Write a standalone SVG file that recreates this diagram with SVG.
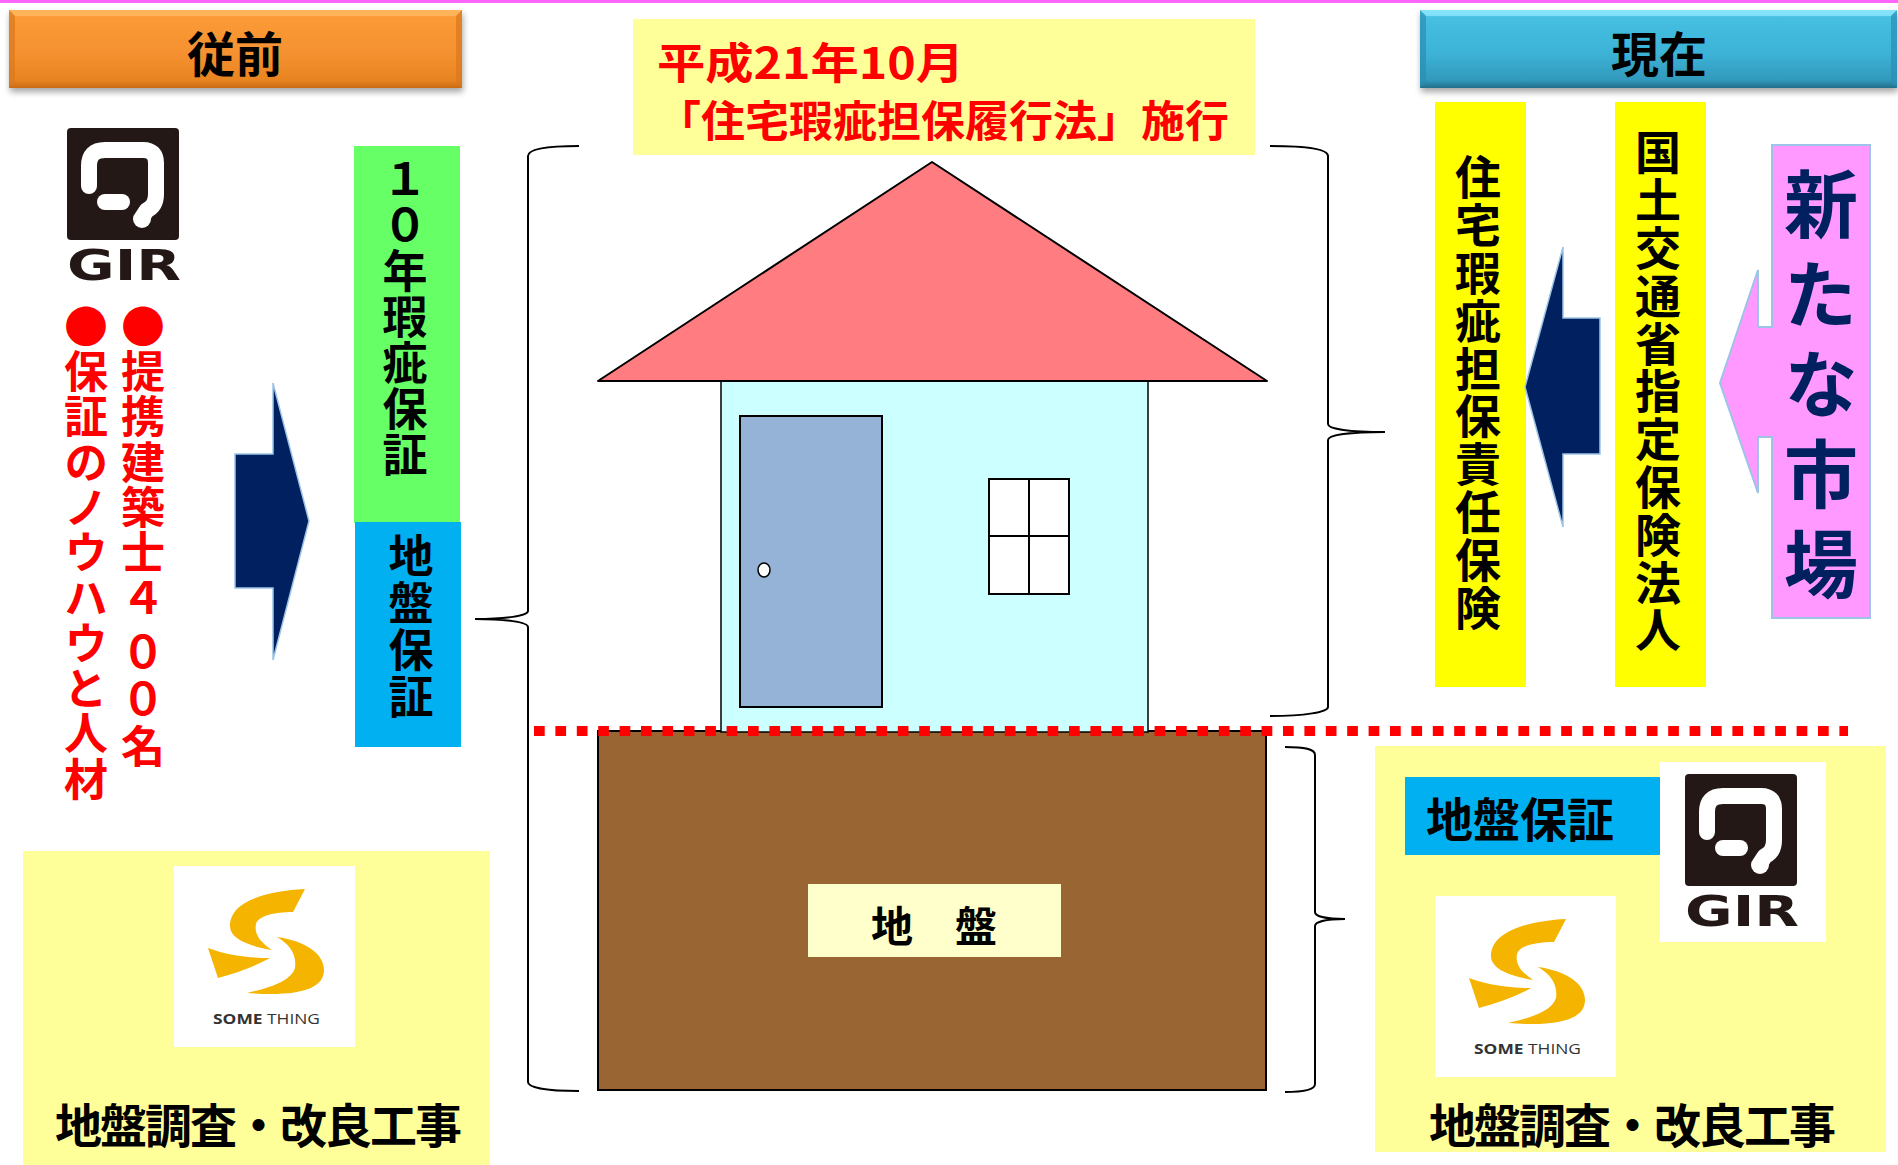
<svg xmlns="http://www.w3.org/2000/svg" xmlns:xlink="http://www.w3.org/1999/xlink" width="1898" height="1165" viewBox="0 0 1898 1165">
  <style>
    .jp { font-family: 'Noto Sans CJK JP', 'Noto Sans CJK SC', sans-serif; font-weight: bold; }
    .v { writing-mode: vertical-rl; text-orientation: upright; }
    .red { fill: #ff0000; }
    .blk { fill: #000000; }
    .navy { fill: #002060; }
    .brace { fill: none; stroke: #000000; stroke-width: 2; }
    .navyArrow { fill: #002060; stroke: #9dc3e6; stroke-width: 1.5; }
  </style>
  <defs>
    <linearGradient id="orangeGrad" x1="0" y1="0" x2="0" y2="1">
      <stop offset="0" stop-color="#ffa94a"/>
      <stop offset="0.1" stop-color="#fb9a36"/>
      <stop offset="0.55" stop-color="#f59130"/>
      <stop offset="0.9" stop-color="#e98422"/>
      <stop offset="1" stop-color="#c96b14"/>
    </linearGradient>
    <linearGradient id="blueGrad" x1="0" y1="0" x2="0" y2="1">
      <stop offset="0" stop-color="#80def6"/>
      <stop offset="0.1" stop-color="#46bfe1"/>
      <stop offset="0.55" stop-color="#3cb3d7"/>
      <stop offset="0.9" stop-color="#3299bc"/>
      <stop offset="1" stop-color="#236f8a"/>
    </linearGradient>
    <filter id="shadow" x="-5%" y="-20%" width="110%" height="160%">
      <feDropShadow dx="1" dy="4" stdDeviation="3" flood-color="#000000" flood-opacity="0.35"/>
    </filter>

    <!-- GIR logo: black tile with white loop, word mark below -->
    <symbol id="girLogo" viewBox="0 0 114 156" overflow="visible">
      <rect x="0" y="0" width="112" height="112" rx="4" fill="#231815"/>
      <g fill="none" stroke="#ffffff" stroke-width="16" stroke-linecap="round" stroke-linejoin="round">
        <path d="M22,58 L22,38 Q22,22 38,22 L76,22 Q89,22 89,35 L89,66 Q89,78 80,82 L76,88"/>
        <path d="M38,74 L55,74"/>
      </g>
      <circle cx="75" cy="91" r="9" fill="#ffffff"/>
      <text x="0" y="152" textLength="114" lengthAdjust="spacingAndGlyphs" font-family="'DejaVu Sans', sans-serif" font-weight="bold" font-size="42" fill="#231815">GIR</text>
    </symbol>

    <!-- SOME THING logo: golden S on white -->
    <symbol id="someLogo" viewBox="0 0 181 181">
      <rect x="0" y="0" width="181" height="181" fill="#ffffff"/>
      <g fill="#f4b400">
        <path d="M131,23 C93,25 56,35 56,60 C56,73 75,80 98,84 C86,76 80,68 82,58 C84,50 100,46 119,46 Z"/>
        <path d="M103,71 C132,75 150,88 150,104 C150,123 125,131 73,127 C100,121 117,114 121,102 C123,88 115,78 103,71 Z"/>
        <path d="M34,82 C55,90 78,92 96,92 C80,101 62,107 44,112 Z"/>
      </g>
      <text x="39" y="158" textLength="107" lengthAdjust="spacingAndGlyphs" font-family="'Open Sans', 'Liberation Sans', sans-serif" font-size="15" fill="#333333"><tspan font-weight="bold">SOME</tspan> THING</text>
    </symbol>
  </defs>

  <rect x="0" y="0" width="1898" height="1165" fill="#ffffff"/>
  <rect x="0" y="0" width="1898" height="3" fill="#ff66ff"/>

  <!-- header: before -->
  <g id="header-before">
    <g filter="url(#shadow)">
      <rect x="9" y="10" width="453" height="78" fill="url(#orangeGrad)"/>
    </g>
    <polygon points="9,10 462,10 456,16 15,16" fill="#ffb860" opacity="0.8"/>
    <polygon points="9,10 15,16 15,82 9,88" fill="#d9771d" opacity="0.7"/>
    <polygon points="462,10 456,16 456,82 462,88" fill="#d9771d" opacity="0.7"/>
    <text class="jp blk" x="235" y="72" font-size="48" text-anchor="middle">従前</text>
  </g>

  <!-- header: now -->
  <g id="header-now">
    <g filter="url(#shadow)">
      <rect x="1420" y="10" width="477" height="78" fill="url(#blueGrad)"/>
    </g>
    <polygon points="1420,10 1897,10 1891,16 1426,16" fill="#8ae6fb" opacity="0.8"/>
    <polygon points="1420,10 1426,16 1426,82 1420,88" fill="#2a8fb2" opacity="0.7"/>
    <polygon points="1897,10 1891,16 1891,82 1897,88" fill="#2a8fb2" opacity="0.7"/>
    <text class="jp blk" x="1659" y="72" font-size="48" text-anchor="middle">現在</text>
  </g>

  <!-- left column -->
  <g id="gir-logo-left">
    <use xlink:href="#girLogo" href="#girLogo" x="67" y="128" width="114" height="156"/>
  </g>

  <g id="partner-notes">
    <text class="jp red v" x="143" y="304" font-size="44" letter-spacing="1.3">●提携建築士<tspan letter-spacing="10">４</tspan><tspan letter-spacing="3">００</tspan>名</text>
    <text class="jp red v" x="86" y="304" font-size="44" letter-spacing="1.3">●保証のノウハウと人材</text>
  </g>

  <g id="warranty-10yr">
    <rect x="354" y="146" width="106" height="377" fill="#66ff66"/>
    <text class="jp blk v" x="405" y="156" font-size="45" letter-spacing="1">１０年瑕疵保証</text>
  </g>
  <g id="ground-warranty-left">
    <rect x="355" y="522" width="106" height="225" fill="#00b0f0"/>
    <text class="jp blk v" x="411" y="533" font-size="45" letter-spacing="2">地盤保証</text>
  </g>

  <g id="survey-left">
    <rect x="23" y="851" width="467" height="314" fill="#ffff99"/>
    <use xlink:href="#someLogo" href="#someLogo" x="174" y="866" width="181" height="181"/>
    <text class="jp blk" x="55" y="1143" font-size="47" letter-spacing="-2">地盤調査・改良工事</text>
  </g>

  <!-- centre: law notice -->
  <g id="law-notice">
    <rect x="633" y="19" width="622" height="136" fill="#ffff99"/>
    <text class="jp red" x="657" y="79" font-size="43" textLength="307" lengthAdjust="spacingAndGlyphs">平成21年10月</text>
    <text class="jp red" x="657" y="137" font-size="43" textLength="572" lengthAdjust="spacingAndGlyphs">「住宅瑕疵担保履行法」施行</text>
  </g>

  <!-- centre: house on ground -->
  <g id="ground">
    <rect x="598" y="731" width="668" height="359" fill="#996633" stroke="#000000" stroke-width="2"/>
    <rect x="808" y="884" width="253" height="73" fill="#ffffcc"/>
    <text class="jp blk" x="934" y="942" font-size="42" text-anchor="middle">地　盤</text>
  </g>

  <g id="house">
    <rect x="721" y="381" width="427" height="351" fill="#ccffff" stroke="#000000" stroke-width="1.5"/>
    <polygon points="932,162 598,381 1267,381" fill="#ff7c80" stroke="#000000" stroke-width="2" stroke-linejoin="round"/>
    <rect x="740" y="416" width="142" height="291" fill="#95b3d7" stroke="#000000" stroke-width="2"/>
    <ellipse cx="764" cy="570" rx="6" ry="7" fill="#ffffff" stroke="#000000" stroke-width="1.5"/>
    <rect x="989" y="479" width="80" height="115" fill="#ffffff" stroke="#000000" stroke-width="2"/>
    <line x1="1029" y1="479" x2="1029" y2="594" stroke="#000000" stroke-width="2"/>
    <line x1="989" y1="536" x2="1069" y2="536" stroke="#000000" stroke-width="2"/>
  </g>

  <g id="foundation-line">
    <line x1="534" y1="731" x2="1848" y2="731" stroke="#ff0000" stroke-width="10" stroke-dasharray="10.7 10.7"/>
  </g>

  <!-- right column -->
  <g id="defect-insurance">
    <rect x="1435" y="102" width="91" height="585" fill="#ffff00"/>
    <text class="jp blk v" x="1478" y="154" font-size="46" letter-spacing="1.8">住宅瑕疵担保責任保険</text>
  </g>
  <g id="designated-insurer">
    <rect x="1615" y="102" width="91" height="585" fill="#ffff00"/>
    <text class="jp blk v" x="1658" y="129" font-size="46" letter-spacing="1.8">国土交通省指定保険法人</text>
  </g>
  <g id="new-market">
    <path d="M1772,145 L1870,145 L1870,618 L1772,618 L1772,437 L1758,437 L1758,493 L1720,383 L1758,270 L1758,327 L1772,327 Z" fill="#ff99ff" stroke="#9dc3e6" stroke-width="2"/>
    <text class="jp navy v" x="1821" y="167" font-size="74" letter-spacing="16">新たな市場</text>
  </g>

  <g id="survey-right">
    <rect x="1375" y="746" width="511" height="406" fill="#ffff99"/>
    <rect x="1405" y="777" width="255" height="78" fill="#00b0f0"/>
    <text class="jp blk" x="1426" y="837" font-size="47">地盤保証</text>
    <rect x="1660" y="762" width="166" height="180" fill="#ffffff"/>
    <use xlink:href="#girLogo" href="#girLogo" x="1685" y="774" width="114" height="156"/>
    <use xlink:href="#someLogo" href="#someLogo" x="1435" y="896" width="181" height="181"/>
    <text class="jp blk" x="1429" y="1143" font-size="47" letter-spacing="-2">地盤調査・改良工事</text>
  </g>

  <!-- connectors: arrows and braces -->
  <g id="connectors">
    <path class="navyArrow" d="M235,454 L273,454 L273,383 L309,521 L273,660 L273,588 L235,588 Z"/>
    <path class="navyArrow" d="M1600,318 L1563,318 L1563,247 L1525,387 L1563,527 L1563,454 L1600,454 Z"/>
    <path class="brace" d="M579,146 C548,146 528,149 528,156 L528,611 C528,616 505,619 475,619 C505,619 528,622 528,627 L528,1082 C528,1088 548,1091 579,1091"/>
    <path class="brace" d="M1270,146 C1305,146 1328,149 1328,156 L1328,424 C1328,429 1350,432 1385,432 C1350,432 1328,435 1328,440 L1328,707 C1328,712 1305,716 1270,716"/>
    <path class="brace" d="M1285,747 C1305,747 1315,749 1315,755 L1315,912 C1315,916 1325,919 1345,919 C1325,919 1315,922 1315,926 L1315,1084 C1315,1089 1305,1092 1285,1092"/>
  </g>
</svg>
